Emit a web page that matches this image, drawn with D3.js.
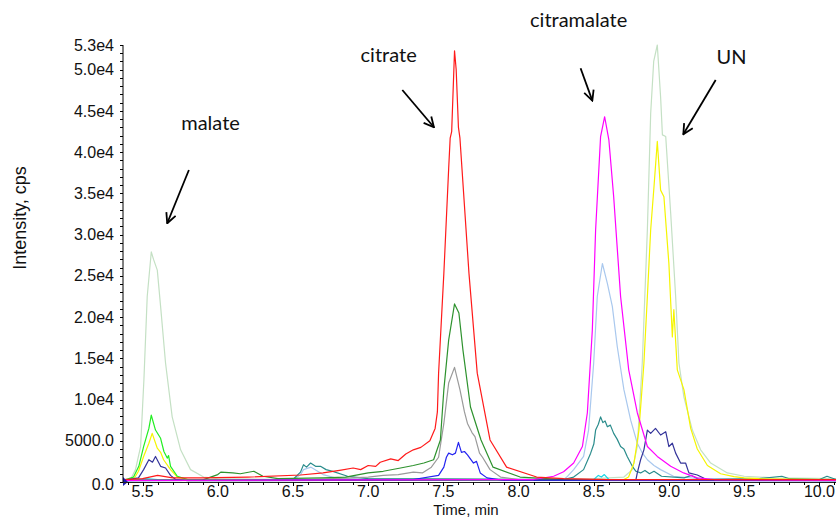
<!DOCTYPE html>
<html>
<head>
<meta charset="utf-8">
<script src="https://cdn.jsdelivr.net/npm/d3@7"></script>
<style>
  html, body { margin: 0; padding: 0; background: #fff; }
  svg { display: block; }
</style>
</head>
<body>
<svg id="chart" width="839" height="521"></svg>
<script>
// ---------------- DATA (time in min, intensity in cps) ----------------
const paleGreen = [[5.37,300],[5.42,300],[5.453,1500],[5.487,4300],[5.509,12400],[5.531,22500],[5.558,27900],[5.573,27000],[5.598,25700],[5.62,21300],[5.653,14400],[5.697,7900],[5.753,3900],[5.819,1500],[5.906,600],[5.999,400],[6.5,300],[7.0,350],[7.5,400],[8.0,300],[8.5,400],[8.7,600],[8.756,1500],[8.789,4300],[8.822,14400],[8.856,30600],[8.878,44700],[8.898,51000],[8.922,53000],[8.944,46700],[8.956,42100],[8.978,41900],[9.011,32600],[9.044,22500],[9.066,14400],[9.099,10300],[9.155,6300],[9.21,3900],[9.277,2300],[9.388,1100],[9.5,700],[9.7,500],[10.11,400]];
const lightBlue = [[5.37,200],[6.5,200],[6.55,900],[6.57,1500],[6.62,1800],[6.7,900],[6.8,400],[8.3,300],[8.32,600],[8.366,1500],[8.432,3100],[8.465,6300],[8.499,14400],[8.523,22500],[8.557,26500],[8.59,24100],[8.623,21300],[8.656,16400],[8.7,11200],[8.745,7500],[8.789,4700],[8.82,3600],[8.856,2700],[8.9,2000],[8.944,1500],[9.03,700],[9.2,400],[10.11,300]];
const cyan = [[5.37,150],[5.45,200],[5.52,400],[5.6,300],[6.6,250],[7.5,200],[8.5,300],[8.53,800],[8.55,600],[8.57,900],[8.6,300],[9.6,250],[10.11,150]];
const teal = [[5.37,200],[6.5,300],[6.55,1200],[6.57,2100],[6.59,1800],[6.617,2300],[6.65,1900],[6.683,1900],[6.72,1500],[6.77,1250],[6.863,700],[7.0,400],[8.3,300],[8.366,600],[8.432,1500],[8.479,3500],[8.5,4600],[8.512,6300],[8.53,7000],[8.545,7900],[8.56,7200],[8.575,7400],[8.59,6700],[8.61,6900],[8.632,5900],[8.655,5200],[8.678,4300],[8.7,4000],[8.722,3100],[8.756,1900],[8.78,1300],[8.811,1100],[8.84,1400],[8.87,1000],[8.9,1300],[8.95,700],[9.1,500],[9.15,800],[9.2,300],[9.6,400],[9.75,700],[9.8,400],[10.0,300],[10.05,700],[10.11,300]];
const gray = [[5.37,150],[6.5,200],[7.0,600],[7.1,800],[7.2,900],[7.3,1200],[7.36,1100],[7.42,1800],[7.468,3000],[7.503,7100],[7.535,12000],[7.574,13900],[7.61,11200],[7.64,8500],[7.66,7100],[7.69,6000],[7.71,5500],[7.74,3500],[7.76,3000],[7.81,1500],[7.88,600],[8.0,300],[10.11,150]];
const yellow = [[5.37,200],[5.44,300],[5.473,1300],[5.507,3100],[5.542,4700],[5.564,5900],[5.598,4100],[5.62,3600],[5.64,2700],[5.686,1500],[5.731,600],[5.8,300],[6.0,250],[8.7,300],[8.731,600],[8.767,2300],[8.8,6300],[8.833,14400],[8.856,22500],[8.878,30600],[8.9,35800],[8.922,41300],[8.944,35400],[8.966,34600],[8.999,26500],[9.022,17600],[9.032,20900],[9.055,13600],[9.099,11200],[9.144,6500],[9.188,4000],[9.255,2000],[9.343,1000],[9.432,650],[9.5,500],[9.6,400],[10.11,300]];
const lime = [[5.37,200],[5.44,600],[5.475,1900],[5.507,4300],[5.542,6500],[5.558,8100],[5.586,6300],[5.62,5300],[5.642,3700],[5.664,2900],[5.673,3200],[5.686,1900],[5.731,700],[5.8,300],[10.11,200]];
const green = [[5.37,200],[5.9,250],[6.0,900],[6.02,1200],[6.1,1100],[6.15,1000],[6.24,1300],[6.3,700],[6.4,400],[6.7,500],[6.85,600],[7.0,1100],[7.1,1300],[7.215,1700],[7.3,2000],[7.37,2300],[7.435,2700],[7.48,5100],[7.503,11200],[7.535,17200],[7.574,21600],[7.603,20500],[7.63,16000],[7.68,9100],[7.75,5100],[7.83,1800],[8.01,600],[8.3,300],[10.11,200]];
const blue = [[5.37,150],[7.3,300],[7.468,800],[7.503,1800],[7.52,3000],[7.535,3500],[7.56,3300],[7.58,3500],[7.6,4800],[7.62,3600],[7.64,3700],[7.66,3300],[7.7,2300],[7.72,2500],[7.745,1100],[7.79,500],[7.9,200],[10.11,150]];
const navy = [[5.37,200],[5.473,500],[5.507,1500],[5.542,2700],[5.566,2400],[5.586,3100],[5.62,1900],[5.653,1700],[5.686,800],[5.72,300],[5.8,150],[8.78,300],[8.789,1100],[8.811,2700],[8.833,3900],[8.856,6300],[8.878,5900],[8.91,6500],[8.944,5700],[8.978,6100],[8.999,4300],[9.022,4700],[9.044,3500],[9.077,2300],[9.11,2300],[9.132,1100],[9.188,850],[9.25,300],[10.11,200]];
const magenta = [[5.37,200],[8.1,300],[8.233,700],[8.299,1250],[8.366,2300],[8.424,4300],[8.457,8400],[8.49,18400],[8.512,30600],[8.545,41900],[8.572,44300],[8.6,41500],[8.632,34600],[8.678,22500],[8.732,13600],[8.789,8400],[8.856,4300],[8.922,3100],[9.011,1900],[9.097,1100],[9.188,500],[9.3,300],[10.11,200]];
const red = [[5.37,300],[5.5,400],[5.6,800],[5.7,500],[5.89,500],[6.2,600],[6.55,850],[6.7,1100],[6.82,1450],[6.9,1700],[6.95,1500],[7.0,2000],[7.05,1900],[7.08,2400],[7.15,2800],[7.2,2600],[7.25,3400],[7.3,3900],[7.35,4200],[7.41,5000],[7.445,6500],[7.46,8500],[7.468,13200],[7.503,25300],[7.535,38000],[7.545,41700],[7.555,42500],[7.574,52300],[7.585,50000],[7.6,43000],[7.61,41700],[7.67,25300],[7.725,13200],[7.81,5100],[7.92,1800],[8.12,600],[8.3,400],[8.6,300],[10.11,300]];

const seriesList = [
  {name: "paleGreen", color: "#c4e0c4", data: paleGreen},
  {name: "lightBlue", color: "#a9c8ee", data: lightBlue},
  {name: "cyan",      color: "#19d6e6", data: cyan},
  {name: "teal",      color: "#2a8c8c", data: teal},
  {name: "gray",      color: "#9a9a9a", data: gray},
  {name: "yellow",    color: "#f5f500", data: yellow},
  {name: "lime",      color: "#22ee22", data: lime},
  {name: "green",     color: "#2e922e", data: green},
  {name: "blue",      color: "#2424f0", data: blue},
  {name: "navy",      color: "#34349a", data: navy},
  {name: "magenta",   color: "#ff00ff", data: magenta},
  {name: "red",       color: "#ff1a1a", data: red}
];

const yMajorTicks = [0, 5000, 10000, 15000, 20000, 25000, 30000, 35000, 40000, 45000, 50000, 53000];
const yTickLabels = ["0.0", "5000.0", "1.0e4", "1.5e4", "2.0e4", "2.5e4", "3.0e4", "3.5e4", "4.0e4", "4.5e4", "5.0e4", "5.3e4"];
const xMajorTicks = [5.5, 6.0, 6.5, 7.0, 7.5, 8.0, 8.5, 9.0, 9.5, 10.0];
const xTickLabels = ["5.5", "6.0", "6.5", "7.0", "7.5", "8.0", "8.5", "9.0", "9.5", "10.0"];

// annotations: label position and arrow (tail -> head) in data coordinates
const annotations = [
  {text: "malate",      tx: 5.952, tv: 43540, ax1: 5.808, av1: 37840, ax2: 5.664, av2: 31380},
  {text: "citrate",     tx: 7.136, tv: 51790, ax1: 7.227, av1: 47540, ax2: 7.437, av2: 43020},
  {text: "citramalate", tx: 8.399, tv: 56030, ax1: 8.412, av1: 50180, ax2: 8.490, av2: 46250},
  {text: "UN",          tx: 9.416, tv: 51550, ax1: 9.310, av1: 48760, ax2: 9.095, av2: 42170}
];

// ---------------- CHART ----------------
const svg = d3.select("#chart");
const x = d3.scaleLinear().domain([5.37, 10.11]).range([123, 836]);
const y = d3.scaleLinear().domain([0, 53000]).range([482, 45]);

const axisFont = "'Liberation Sans', Arial, sans-serif";

// traces
const line = d3.line().x(d => x(d[0])).y(d => y(d[1]));
const defs = svg.append("defs");
defs.append("clipPath").attr("id", "plotclip")
  .append("rect").attr("x", 123).attr("y", 30).attr("width", 716).attr("height", 453);
svg.append("g").attr("clip-path", "url(#plotclip)")
  .selectAll("path").data(seriesList).join("path")
  .attr("d", d => line(d.data))
  .attr("fill", "none")
  .attr("stroke", d => d.color)
  .attr("stroke-width", 1.2)
  .attr("stroke-linejoin", "round");

// small start marker at origin
svg.append("path")
  .attr("d", `M${x(5.37)},${y(0)-5} L${x(5.37)+5},${y(0)} L${x(5.37)},${y(0)+4} Z`)
  .attr("fill", "#1a1ab0");

// Y axis
const yAxisG = svg.append("g");
yAxisG.append("line").attr("x1", x(5.37)).attr("x2", x(5.37))
  .attr("y1", y(53000)).attr("y2", y(0)).attr("stroke", "#000").attr("stroke-width", 1);
const yMinor = d3.range(0, 53001, 1000);
yAxisG.selectAll("line.minor").data(yMinor).join("line").attr("class", "minor")
  .attr("x1", x(5.37) - 3).attr("x2", x(5.37))
  .attr("y1", d => Math.round(y(d)) + 0.5).attr("y2", d => Math.round(y(d)) + 0.5)
  .attr("stroke", "#000").attr("stroke-width", 1);
yAxisG.selectAll("text").data(yMajorTicks).join("text")
  .attr("x", 114)
  .attr("y", (d, i) => y(d) + (i === 0 ? 2 : 0))
  .attr("dy", "0.35em")
  .attr("text-anchor", "end")
  .attr("font-family", axisFont).attr("font-size", 16).attr("fill", "#111")
  .text((d, i) => yTickLabels[i]);

// X axis
const xAxisG = svg.append("g");
xAxisG.append("line").attr("x1", x(5.37)).attr("x2", x(10.11))
  .attr("y1", y(0) + 0.5).attr("y2", y(0) + 0.5).attr("stroke", "#222").attr("stroke-width", 1);
const xMinor = d3.range(54, 102, 1).map(d => d / 10);
xAxisG.selectAll("line.minor").data(xMinor).join("line").attr("class", "minor")
  .attr("x1", d => Math.round(x(d)) + 0.5).attr("x2", d => Math.round(x(d)) + 0.5)
  .attr("y1", y(0)).attr("y2", d => y(0) + (xMajorTicks.some(m => Math.abs(m - d) < 1e-6) ? 4 : 3))
  .attr("stroke", "#000").attr("stroke-width", 1);
xAxisG.selectAll("text").data(xMajorTicks).join("text")
  .attr("x", d => x(d)).attr("y", 497)
  .attr("text-anchor", "middle")
  .attr("font-family", axisFont).attr("font-size", 16).attr("fill", "#111")
  .text((d, i) => xTickLabels[i]);

// axis titles
svg.append("text").attr("x", 466).attr("y", 515).attr("text-anchor", "middle")
  .attr("font-family", axisFont).attr("font-size", 15).attr("fill", "#111")
  .text("Time, min");
svg.append("text").attr("transform", "translate(26,218) rotate(-90)")
  .attr("text-anchor", "middle")
  .attr("font-family", axisFont).attr("font-size", 18).attr("fill", "#111")
  .text("Intensity, cps");

// annotations
defs.append("marker").attr("id", "arrowhead")
  .attr("viewBox", "0 0 12 12").attr("refX", 11).attr("refY", 6)
  .attr("markerWidth", 12).attr("markerHeight", 12)
  .attr("markerUnits", "userSpaceOnUse").attr("orient", "auto")
  .append("path").attr("d", "M1,1 L11,6 L1,11")
  .attr("fill", "none").attr("stroke", "#000").attr("stroke-width", 1.8);

const ann = svg.append("g");
ann.selectAll("line").data(annotations).join("line")
  .attr("x1", d => x(d.ax1)).attr("y1", d => y(d.av1))
  .attr("x2", d => x(d.ax2)).attr("y2", d => y(d.av2))
  .attr("stroke", "#000").attr("stroke-width", 1.8)
  .attr("marker-end", "url(#arrowhead)");
ann.selectAll("text").data(annotations).join("text")
  .attr("x", d => x(d.tx)).attr("y", d => y(d.tv))
  .attr("dy", "0.35em").attr("text-anchor", "middle")
  .attr("font-family", "Lato, 'Open Sans', sans-serif").attr("font-size", 20).attr("fill", "#111")
  .text(d => d.text);
</script>
</body>
</html>
